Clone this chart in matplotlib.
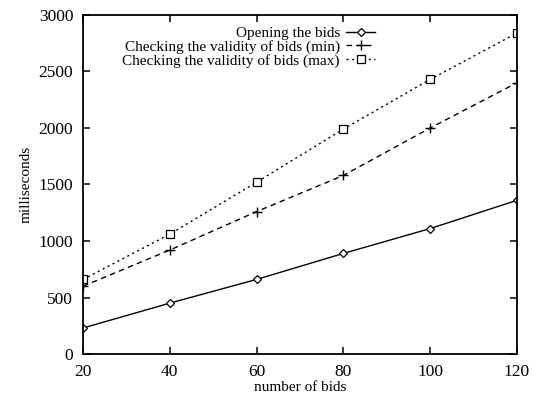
import matplotlib
matplotlib.use("Agg")
import matplotlib.pyplot as plt

bids = [20, 40, 60, 80, 100, 120]
opening = [230, 450, 660, 890, 1110, 1360]
check_min = [600, 920, 1260, 1580, 2000, 2400]
check_max = [660, 1060, 1520, 1990, 2430, 2840]

plt.rcParams['font.family'] = ['Liberation Serif', 'DejaVu Serif']
plt.rcParams['font.size'] = 10

fig = plt.figure(figsize=(5.34, 3.94), dpi=100)
ax = fig.add_axes([0.1554, 0.1015, 0.8127, 0.8605])

ax.plot(bids, opening, color='black', lw=1.0, ls='-', marker='D', ms=4,
        mfc='white', mec='black', mew=0.9, label='Opening the bids')
ax.plot(bids, check_min, color='black', lw=1.0, ls=(0, (4, 3)), marker='+', ms=7,
        mew=1.0, label='Checking the validity of bids (min)')
ax.plot(bids, check_max, color='black', lw=1.0, ls=(0, (1.5, 2.5)), marker='s', ms=6,
        mfc='white', mec='black', mew=0.9, label='Checking the validity of bids (max)')

ax.set_xlim(20, 120)
ax.set_ylim(0, 3000)
ax.set_xticks(bids)
ax.set_yticks(range(0, 3001, 500))
ax.tick_params(direction='in', top=True, right=True, length=5, width=1.1, labelsize=12.5, pad=7)
for s in ax.spines.values():
    s.set_linewidth(1.3)

ax.set_xlabel('number of bids', fontsize=11, labelpad=1)
ax.set_ylabel('milliseconds', fontsize=11, labelpad=4)

ax.legend(loc='upper right', bbox_to_anchor=(0.673, 0.967), frameon=False, markerfirst=False,
          handlelength=1.9, handletextpad=0.4, labelspacing=0.0, fontsize=11,
          borderaxespad=0, borderpad=0)

fig.savefig('out.png', dpi=100)
